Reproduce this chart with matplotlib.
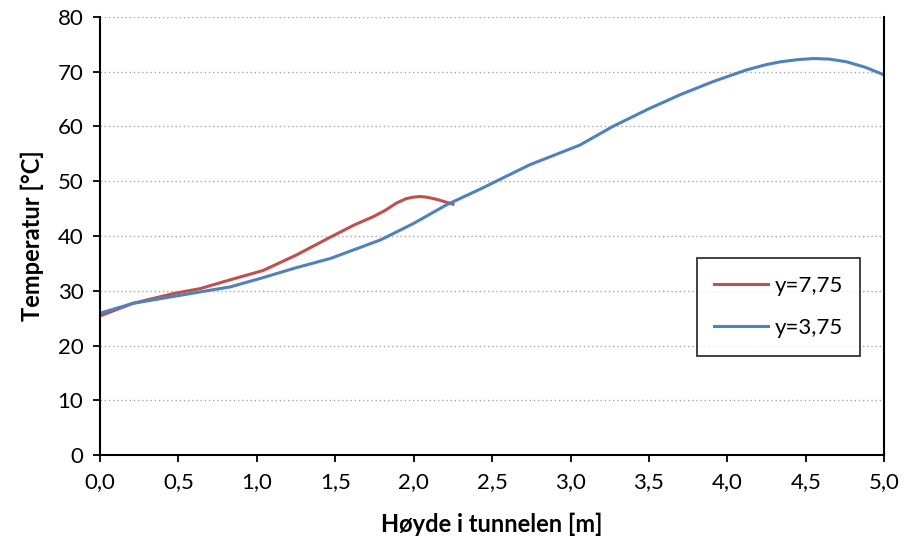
import matplotlib as mpl
mpl.use('agg')
import matplotlib.pyplot as plt

plt.rc('font', family=['Lato', 'DejaVu Sans'])
plt.rc('xtick', labelsize=16)
plt.rc('ytick', labelsize=16)

# y=7,75 series
x_red = [0.0, 0.21, 0.47, 0.64, 0.83, 1.04, 1.25, 1.47, 1.62, 1.74, 1.82, 1.89, 1.95,
         2.0, 2.04, 2.08, 2.13, 2.17, 2.25]
t_red = [25.4, 27.7, 29.5, 30.4, 32.0, 33.7, 36.5, 39.8, 42.0, 43.5, 44.7, 46.0, 46.8,
         47.1, 47.2, 47.1, 46.8, 46.5, 45.8]

# y=3,75 series
x_blue = [0.0, 0.21, 0.64, 0.83, 1.04, 1.25, 1.47, 1.79, 2.0, 2.21, 2.36, 2.42, 2.74,
          3.06, 3.27, 3.49, 3.70, 3.91, 4.12, 4.25, 4.34, 4.45, 4.55, 4.65, 4.76,
          4.88, 5.0]
t_blue = [25.9, 27.7, 29.8, 30.7, 32.4, 34.2, 35.9, 39.3, 42.3, 45.7, 47.7, 48.5, 53.0,
          56.6, 60.0, 63.1, 65.8, 68.2, 70.3, 71.3, 71.8, 72.2, 72.4, 72.3, 71.8,
          70.8, 69.4]

xticks = [0.0, 0.5, 1.0, 1.5, 2.0, 2.5, 3.0, 3.5, 4.0, 4.5, 5.0]
xlabels = ['0,0', '0,5', '1,0', '1,5', '2,0', '2,5', '3,0', '3,5', '4,0', '4,5', '5,0']

fig = plt.figure(figsize=(9.05, 5.45), dpi=100)
ax = fig.add_axes([0.1105, 0.165, 0.8665, 0.804])

ax.plot(x_red, t_red, color='#C0504D', lw=2.2, label='y=7,75')
ax.plot(x_blue, t_blue, color='#4F81BD', lw=2.2, label='y=3,75')

ax.set_xlim(0, 5)
ax.set_ylim(0, 80)
ax.set_xticks(xticks)
ax.set_xticklabels(xlabels)
ax.set_yticks(range(0, 81, 10))
ax.yaxis.grid(True, color='#A6A6A6', ls=(0, (1, 2)), lw=1)
ax.set_axisbelow(True)
ax.tick_params(direction='out', length=5, width=1.3, pad=7)

for s in ['left', 'bottom', 'right']:
    ax.spines[s].set_linewidth(1.5)
ax.spines['top'].set_visible(False)

ax.set_xlabel('Høyde i tunnelen [m]', fontsize=17, fontweight='bold', labelpad=15)
ax.set_ylabel('Temperatur [°C]', fontsize=17, fontweight='bold', labelpad=10)

leg = ax.legend(loc='lower left', bbox_to_anchor=(0.7607, 0.227), fontsize=16,
                frameon=True, fancybox=False, edgecolor='black', handlelength=2.4,
                handletextpad=0.3, borderpad=0.8, labelspacing=1.0, borderaxespad=0)
leg.get_frame().set_linewidth(1.3)

plt.savefig('out.png', dpi=100)
